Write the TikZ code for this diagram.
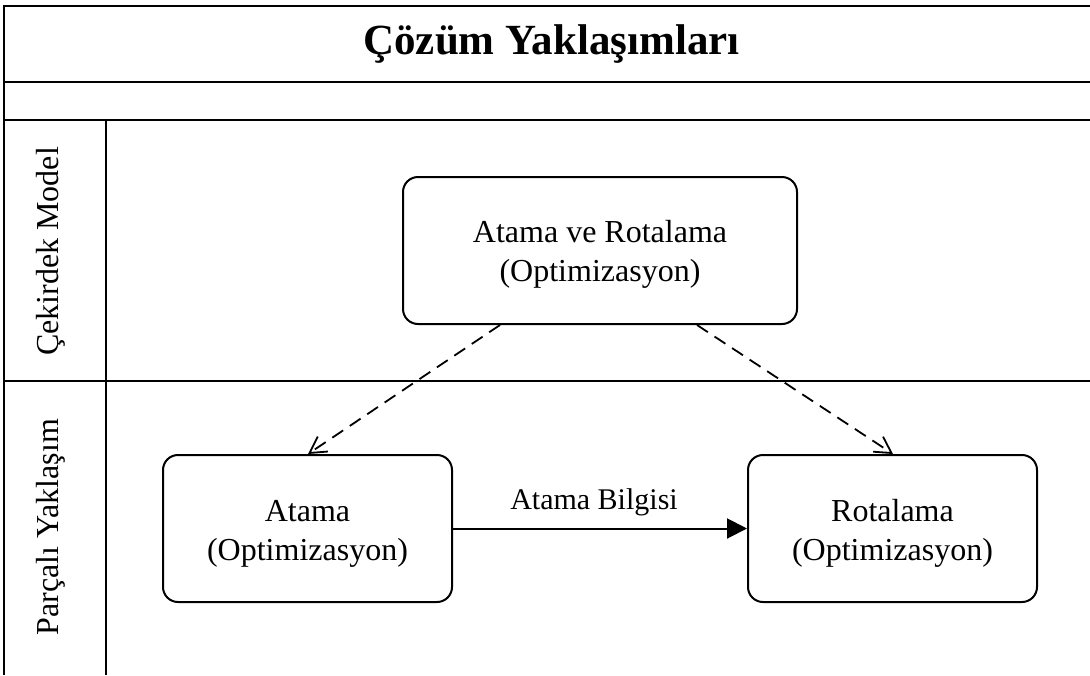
\documentclass[tikz,border=0pt]{standalone}
\usepackage{fontspec}
\setmainfont{Liberation Serif}
\usetikzlibrary{arrows.meta}
\tikzset{
  frame/.style={line width=2pt},
  procbox/.style={draw, line width=2pt, rounded corners=15pt, minimum width=289pt, minimum height=147pt, inner sep=0pt},
  boxtext/.style={align=center, font=\fontsize{32}{39}\selectfont, inner sep=0pt},
  lanelabel/.style={rotate=90, anchor=base, font=\fontsize{32}{38}\selectfont, inner sep=0pt},
  flowdash/.style={line width=1.8pt, dash pattern=on 13pt off 8pt, -{Straight Barb[length=16pt,width=18pt,line width=1.8pt]}},
  flowsolid/.style={line width=2pt, -{Triangle[length=20pt,width=20pt]}}
}
\begin{document}
\begin{tikzpicture}[x=1pt,y=-1pt]
\useasboundingbox (0,0) rectangle (1090,675);
% pool frame and lane dividers
\draw[frame] (1090,6) -- (4,6) -- (4,675);
\draw[frame] (4,82) -- (1090,82);
\draw[frame] (4,120) -- (1090,120);
\draw[frame] (4,381) -- (1090,381);
\draw[frame] (106,120) -- (106,675);
% title
\node[font=\bfseries\fontsize{43}{50}\selectfont, inner sep=0pt, anchor=base] (title) at (551.5,54) {Çözüm Yaklaşımları};
% lane labels
\node[lanelabel] (laneA) at (58,251.5) {Çekirdek Model};
\node[lanelabel] (laneB) at (58,527) {Parçalı Yaklaşım};
% process boxes
\node[procbox, minimum width=394pt] (core) at (600,250.5) {};
\node[procbox] (assign) at (307.5,528.5) {};
\node[procbox] (route) at (892.5,528.5) {};
\node[boxtext] (coretext) at ([yshift=-4pt]core.center) {Atama ve Rotalama\\(Optimizasyon)};
\node[boxtext] (assigntext) at ([yshift=-5pt]assign.center) {Atama\\(Optimizasyon)};
\node[boxtext] (routetext) at ([yshift=-5pt]route.center) {Rotalama\\(Optimizasyon)};
% connectors
\draw[flowdash] (core.south -| 500,0) -- (assign.north -| 308,0);
\draw[flowdash] (core.south -| 697,0) -- (route.north -| 893,0);
\draw[flowsolid] (assign.east) -- (route.west);
\node[font=\fontsize{30}{36}\selectfont, inner sep=0pt, anchor=base] (info) at (594,509) {Atama Bilgisi};
\end{tikzpicture}
\end{document}
